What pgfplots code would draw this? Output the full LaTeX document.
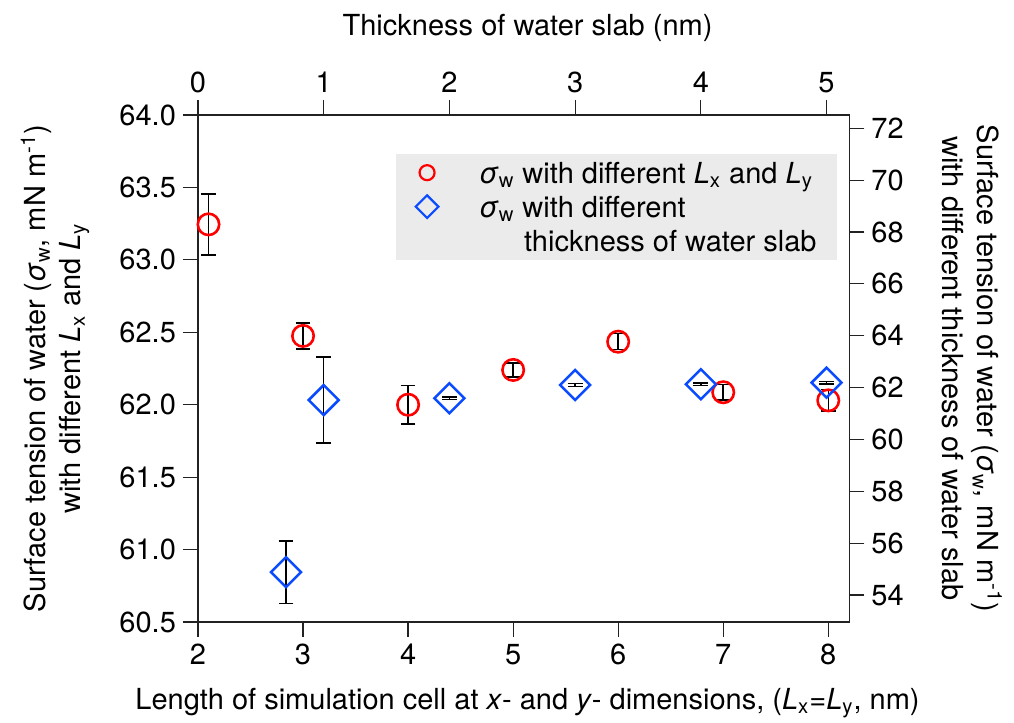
\documentclass[border=0pt]{standalone}
\usepackage{fontspec}
\setmainfont{TeX Gyre Heros}
\usepackage{pgfplots}
\pgfplotsset{compat=1.18}
\definecolor{mkred}{HTML}{FF0000}
\definecolor{mkblue}{HTML}{0A4BFF}
\definecolor{leggray}{HTML}{EBEBEB}
\definecolor{axgray}{HTML}{222222}

\newcommand{\fs}{\fontsize{14.5}{17.5}\selectfont}
\newcommand{\sw}{\textit{σ}\textsubscript{w}}

\pgfplotsset{
  base/.style={
    scale only axis, width=325.65pt, height=253.5pt,
    at={(0,0)}, anchor=south west,
    tick align=outside, major tick length=7.5pt,
    axis line style={axgray, line width=0.6pt},
    every tick/.style={axgray, line width=0.6pt},
    tick label style={font=\fs},
    label style={font=\fs},
    /pgf/number format/assume math mode=true,
  },
  errs/.style={
    error bars/y dir=both, error bars/y explicit,
    error bars/error bar style={black, line width=0.75pt},
    error bars/error mark options={rotate=90, mark size=3.7pt, line width=0.75pt, black},
  },
}

\begin{document}
\begin{tikzpicture}
\useasboundingbox (-99pt,-50.5pt) rectangle (408pt,311pt);

% bottom / left axis: different Lx and Ly
\begin{axis}[base,
  xmin=2, xmax=8.2, ymin=60.5, ymax=64.0,
  xtick={2,3,4,5,6,7,8}, ytick={60.5,61,61.5,62,62.5,63,63.5,64},
  xtick pos=bottom, ytick pos=left,
  yticklabel style={/pgf/number format/.cd, fixed, fixed zerofill, precision=1},
  xlabel={Length of simulation cell at \textit{x}- and \textit{y}- dimensions, (\textit{L}\textsubscript{x}=\textit{L}\textsubscript{y}, nm)},
  xlabel style={at={(axis description cs:0.506,-0.16)}, anchor=center},
  ylabel={Surface tension of water (\sw, mN m\textsuperscript{-1})\\with different \textit{L}\textsubscript{x} and \textit{L}\textsubscript{y}},
  ylabel style={at={(axis description cs:-0.2196,0.5)}, anchor=center, align=center},
]
\addplot[only marks, mark=o, color=mkred, mark size=5.35pt, line width=1.3pt, errs]
  table[x=x, y=y, y error=e] {
x    y       e
2.1  63.245  0.21
3.0  62.475  0.09
4.0  62.00   0.133
5.0  62.24   0.047
6.0  62.435  0.055
7.0  62.086  0.052
8.0  62.03   0.075
};
\end{axis}

% top / right axis: different thickness of water slab
\begin{axis}[base,
  xmin=0, xmax=5.181, ymin=52.96, ymax=72.513,
  axis x line*=top, axis y line*=right,
  xtick={0,1,2,3,4,5}, ytick={54,56,58,60,62,64,66,68,70,72},
  xlabel={Thickness of water slab (nm)},
  xlabel style={at={(axis description cs:0.506,1.1716)}, anchor=center},
  ylabel={Surface tension of water (\sw, mN m\textsuperscript{-1})\\with different thickness of water slab},
  ylabel style={at={(axis description cs:1.188,0.5)}, anchor=center, align=center, rotate=180},
  legend image code/.code={\draw[#1] plot coordinates {(0pt,0pt)}; \draw[opacity=0, draw=none, fill=none] (-5.5pt,-8.5pt) rectangle (26pt,8.5pt);},
  legend style={at={(0.981,0.9245)}, anchor=north east, fill=leggray, draw=none,
    inner xsep=10pt, inner ysep=1pt, row sep=0pt,
    nodes={inner sep=0pt, anchor=west, text height=13.7pt, text depth=3.3pt, font=\fs}},
  legend cell align=left,
]
\addlegendimage{only marks, mark=o, color=mkred, mark size=3.75pt, line width=1.1pt}
\addlegendentry{\sw\ with different \textit{L}\textsubscript{x} and \textit{L}\textsubscript{y}}
\addplot[only marks, mark=square, mark options={rotate=45}, color=mkblue, mark size=5.3pt, line width=1.25pt,
  legend image post style={mark size=4pt, line width=1.1pt}, errs]
  table[x=t, y=y, y error=e] {
t     y       e
0.70  54.88   1.2
1.00  61.52   1.66
2.00  61.59   0.05
3.00  62.10   0.05
4.00  62.13   0.05
5.00  62.19   0.05
};
\addlegendentry{\sw\ with different}
\addlegendimage{empty legend}
\addlegendentry{\hspace*{22.5pt}thickness of water slab}
\end{axis}
\end{tikzpicture}
\end{document}
